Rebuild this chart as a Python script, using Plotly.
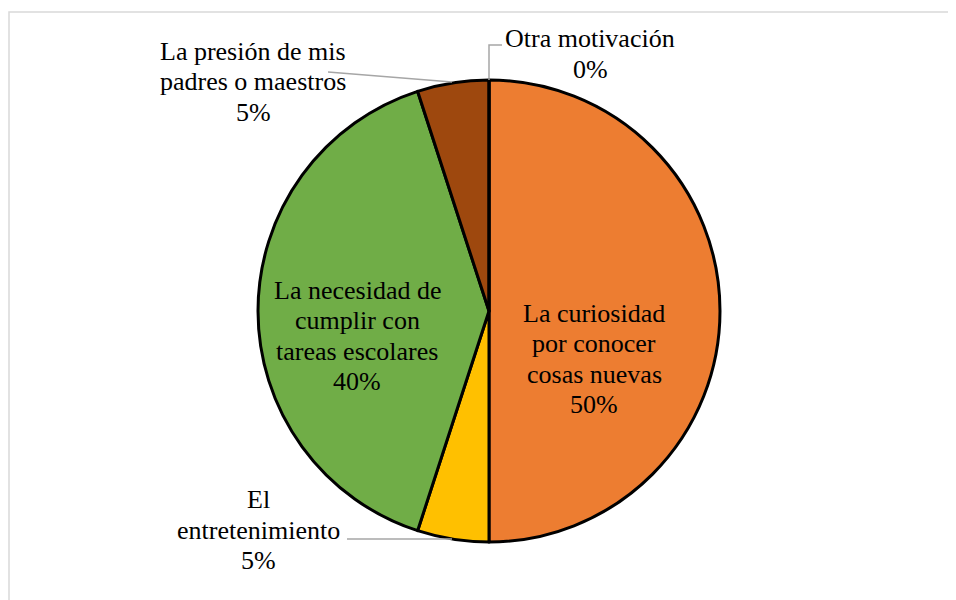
import plotly.graph_objects as go

categories = [
    "La curiosidad por conocer cosas nuevas",
    "El entretenimiento",
    "La necesidad de cumplir con tareas escolares",
    "La presión de mis padres o maestros",
    "Otra motivación",
]
percent = [50, 5, 40, 5, 0]
# how each category name is wrapped on the chart
label_lines = [
    ["La curiosidad", "por conocer", "cosas nuevas"],
    ["El", "entretenimiento"],
    ["La necesidad de", "cumplir con", "tareas escolares"],
    ["La presión de mis", "padres o maestros"],
    ["Otra motivación"],
]
colors = ["#ED7D31", "#FFC000", "#70AD47", "#9E480E", "#A5A5A5"]

W, H = 956, 600
OFF = 8  # page body margin
FONT = "Liberation Serif"
FONT_SIZE = 26
LINE_GAP = 30.5


def px(x):
    return (x - OFF) / W


def py(y):
    return 1 - (y - OFF) / H


# label block centres in pixels (layout only)
label_pos = [(594, 359), (259, 530), (357, 336), (253, 82), (590, 54)]

fig = go.Figure()
fig.add_trace(
    go.Pie(
        labels=categories,
        values=percent,
        sort=False,
        direction="clockwise",
        rotation=0,
        textinfo="none",
        marker=dict(colors=colors, line=dict(color="black", width=3)),
        domain=dict(x=[px(489 - 231), px(489 + 231)], y=[py(542), py(80)]),
        showlegend=False,
    )
)

for lines, val, (cx, cy) in zip(label_lines, percent, label_pos):
    rows = lines + [f"{val}%"]
    n = len(rows)
    for i, row in enumerate(rows):
        fig.add_annotation(
            x=px(cx),
            y=py(cy + (i - (n - 1) / 2) * LINE_GAP),
            xref="paper",
            yref="paper",
            text=row,
            showarrow=False,
            font=dict(family=FONT, size=FONT_SIZE, color="black"),
            xanchor="center",
            yanchor="middle",
        )

leader = dict(color="#A6A6A6", width=1.5)
# leader lines for outside labels
fig.add_shape(type="path", xref="paper", yref="paper",
              path=f"M {px(489)} {py(80)} L {px(489)} {py(45)} L {px(502)} {py(45)}",
              line=leader)
fig.add_shape(type="line", xref="paper", yref="paper",
              x0=px(328), y0=py(72), x1=px(452), y1=py(82), line=leader)
fig.add_shape(type="line", xref="paper", yref="paper",
              x0=px(347), y0=py(539), x1=px(452), y1=py(539), line=leader)

# chart area border
fig.add_shape(type="rect", xref="paper", yref="paper",
              x0=px(9), y0=py(12), x1=px(970), y1=py(620),
              line=dict(color="#D9D9D9", width=1.5))

fig.update_layout(
    width=W,
    height=H,
    margin=dict(l=0, r=0, t=0, b=0),
    paper_bgcolor="white",
    plot_bgcolor="white",
    font=dict(family=FONT, color="black"),
)

fig.write_html("out.html")
